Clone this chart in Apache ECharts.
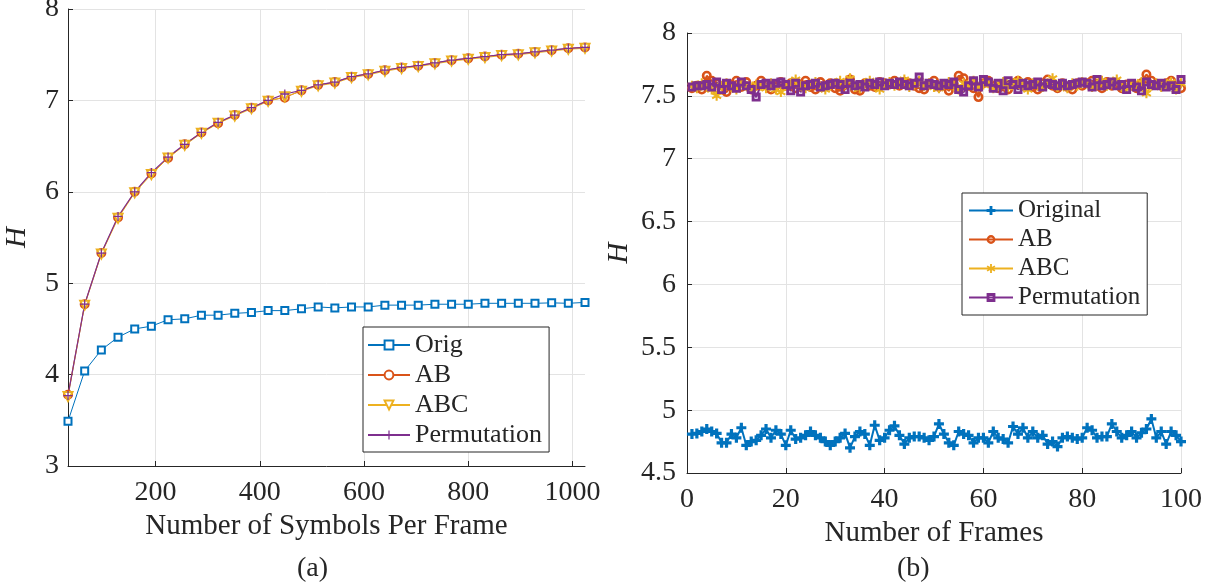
<!DOCTYPE html>
<html>
<head>
<meta charset="utf-8">
<script src="https://cdn.jsdelivr.net/npm/echarts@6/dist/echarts.min.js"></script>
<style>
  html, body { margin: 0; padding: 0; background: #fff; }
  #chart { width: 1211px; height: 588px; }
</style>
</head>
<body>
<div id="chart"></div>
<script>
// (a) entropy vs number of symbols per frame
var symbolsPerFrame = [32, 64, 96, 128, 160, 192, 224, 256, 288, 320, 352, 384, 416, 448, 480, 512,
  544, 576, 608, 640, 672, 704, 736, 768, 800, 832, 864, 896, 928, 960, 992, 1024]
var hOrigA = [3.49, 4.04, 4.27, 4.41, 4.50, 4.53, 4.60, 4.61, 4.65, 4.65, 4.67, 4.68, 4.70, 4.70, 4.72, 4.74,
  4.73, 4.74, 4.74, 4.76, 4.76, 4.76, 4.77, 4.77, 4.77, 4.78, 4.78, 4.78, 4.78, 4.785, 4.78, 4.79]
var hABA = [3.78, 4.77, 5.33, 5.72, 6.00, 6.20, 6.37, 6.52, 6.65, 6.75, 6.84, 6.92, 7.00, 7.03, 7.11, 7.17,
  7.20, 7.26, 7.29, 7.33, 7.36, 7.38, 7.41, 7.44, 7.46, 7.48, 7.50, 7.51, 7.53, 7.55, 7.57, 7.58]
var hABCA = [3.76, 4.76, 5.32, 5.71, 5.99, 6.19, 6.37, 6.51, 6.64, 6.75, 6.83, 6.91, 6.99, 7.04, 7.10, 7.16,
  7.19, 7.25, 7.28, 7.32, 7.35, 7.37, 7.40, 7.43, 7.45, 7.47, 7.49, 7.50, 7.52, 7.54, 7.56, 7.57]
var hPermA = [3.77, 4.77, 5.33, 5.73, 6.00, 6.21, 6.38, 6.52, 6.65, 6.76, 6.84, 6.92, 7.00, 7.07, 7.11, 7.17,
  7.20, 7.26, 7.29, 7.33, 7.36, 7.38, 7.41, 7.44, 7.46, 7.48, 7.50, 7.51, 7.53, 7.55, 7.57, 7.58]
var ticksA = [200, 400, 600, 800, 1000]

// (b) entropy per frame
var frames = [1, 2, 3, 4, 5, 6, 7, 8, 9, 10, 11, 12, 13, 14, 15, 16, 17, 18, 19, 20,
  21, 22, 23, 24, 25, 26, 27, 28, 29, 30, 31, 32, 33, 34, 35, 36, 37, 38, 39, 40,
  41, 42, 43, 44, 45, 46, 47, 48, 49, 50, 51, 52, 53, 54, 55, 56, 57, 58, 59, 60,
  61, 62, 63, 64, 65, 66, 67, 68, 69, 70, 71, 72, 73, 74, 75, 76, 77, 78, 79, 80,
  81, 82, 83, 84, 85, 86, 87, 88, 89, 90, 91, 92, 93, 94, 95, 96, 97, 98, 99, 100]
var hOrigB = [4.81, 4.815, 4.83, 4.85, 4.83, 4.815, 4.74, 4.74, 4.81, 4.78,
  4.86, 4.72, 4.75, 4.76, 4.80, 4.85, 4.78, 4.84, 4.81, 4.72,
  4.84, 4.77, 4.78, 4.80, 4.83, 4.80, 4.78, 4.75, 4.72, 4.75,
  4.78, 4.815, 4.70, 4.79, 4.83, 4.81, 4.72, 4.88, 4.76, 4.78,
  4.84, 4.875, 4.80, 4.73, 4.78, 4.79, 4.79, 4.78, 4.76, 4.79,
  4.89, 4.81, 4.74, 4.72, 4.83, 4.81, 4.80, 4.74, 4.78, 4.78,
  4.74, 4.83, 4.78, 4.77, 4.74, 4.87, 4.81, 4.86, 4.78, 4.83,
  4.78, 4.80, 4.73, 4.75, 4.71, 4.78, 4.79, 4.78, 4.77, 4.78,
  4.86, 4.84, 4.78, 4.79, 4.79, 4.89, 4.83, 4.78, 4.80, 4.83,
  4.78, 4.82, 4.85, 4.93, 4.78, 4.83, 4.73, 4.83, 4.80, 4.75]
var hABB = [7.56, 7.58, 7.55, 7.66, 7.62, 7.60, 7.55, 7.53, 7.59, 7.62,
  7.57, 7.61, 7.55, 7.58, 7.62, 7.59, 7.55, 7.58, 7.61, 7.58,
  7.60, 7.56, 7.59, 7.62, 7.57, 7.55, 7.61, 7.58, 7.60, 7.56,
  7.54, 7.59, 7.63, 7.55, 7.54, 7.60, 7.58, 7.57, 7.61, 7.60,
  7.59, 7.62, 7.58, 7.61, 7.60, 7.58, 7.56, 7.55, 7.59, 7.62,
  7.57, 7.58, 7.54, 7.59, 7.66, 7.64, 7.58, 7.56, 7.49, 7.60,
  7.62, 7.58, 7.56, 7.59, 7.55, 7.60, 7.62, 7.58, 7.61, 7.57,
  7.55, 7.60, 7.63, 7.58, 7.56, 7.60, 7.57, 7.55, 7.60, 7.58,
  7.60, 7.62, 7.58, 7.56, 7.61, 7.58, 7.60, 7.56, 7.59, 7.58,
  7.56, 7.60, 7.67, 7.62, 7.59, 7.58, 7.60, 7.62, 7.57, 7.56]
var hABCB = [7.58, 7.56, 7.60, 7.57, 7.55, 7.50, 7.58, 7.60, 7.57, 7.55,
  7.60, 7.58, 7.56, 7.59, 7.58, 7.56, 7.60, 7.55, 7.53, 7.58,
  7.60, 7.63, 7.58, 7.56, 7.59, 7.61, 7.57, 7.55, 7.58, 7.60,
  7.62, 7.59, 7.64, 7.57, 7.56, 7.60, 7.62, 7.58, 7.55, 7.59,
  7.61, 7.58, 7.60, 7.63, 7.57, 7.59, 7.62, 7.58, 7.60, 7.57,
  7.56, 7.59, 7.61, 7.58, 7.55, 7.60, 7.58, 7.62, 7.57, 7.59,
  7.60, 7.56, 7.58, 7.61, 7.57, 7.59, 7.62, 7.58, 7.55, 7.60,
  7.58, 7.57, 7.60, 7.64, 7.57, 7.59, 7.56, 7.60, 7.58, 7.61,
  7.60, 7.57, 7.59, 7.62, 7.58, 7.60, 7.63, 7.57, 7.56, 7.59,
  7.58, 7.61, 7.52, 7.58, 7.60, 7.57, 7.59, 7.61, 7.55, 7.60]
var hPermB = [7.57, 7.58, 7.58, 7.59, 7.57, 7.61, 7.55, 7.60, 7.58, 7.56,
  7.61, 7.58, 7.55, 7.49, 7.59, 7.60, 7.58, 7.60, 7.61, 7.59,
  7.54, 7.60, 7.53, 7.58, 7.59, 7.60, 7.57, 7.58, 7.59, 7.60,
  7.59, 7.55, 7.60, 7.58, 7.59, 7.57, 7.60, 7.59, 7.61, 7.58,
  7.60, 7.59, 7.61, 7.59, 7.58, 7.60, 7.65, 7.58, 7.60, 7.59,
  7.58, 7.60, 7.59, 7.61, 7.55, 7.53, 7.58, 7.62, 7.57, 7.63,
  7.61, 7.56, 7.60, 7.54, 7.62, 7.59, 7.55, 7.60, 7.58, 7.59,
  7.61, 7.57, 7.60, 7.59, 7.58, 7.60, 7.58, 7.59, 7.60, 7.61,
  7.60, 7.57, 7.63, 7.58, 7.59, 7.61, 7.58, 7.59, 7.55, 7.60,
  7.57, 7.54, 7.61, 7.59, 7.58, 7.60, 7.57, 7.58, 7.55, 7.63]

// matlab colours
var BLUE = '#0072BD'
var ORANGE = '#D95319'
var YELLOW = '#EDB120'
var PURPLE = '#7E2F8E'
var AXIS = '#262626'
var FONT = '"Liberation Serif", "DejaVu Serif", serif'

// marker shapes
var PLUS_THIN = 'path://M4.3,0H5.7V4.3H10V5.7H5.7V10H4.3V5.7H0V4.3H4.3Z'
var PLUS_BOLD = 'path://M3.4,0H6.6V3.4H10V6.6H6.6V10H3.4V6.6H0V3.4H3.4Z'
var STAR = 'path://M4,10L6,10L6,0L4,0Z' +
  'M8.83,8.37L9.83,6.63L1.17,1.63L0.17,3.37Z' +
  'M0.17,6.63L1.17,8.37L9.83,3.37L8.83,1.63Z'
// thick hollow square / circle (outer clockwise, hole anticlockwise)
var RING_SQUARE = 'path://M0,0H10V10H0Z M3.2,3.2V6.8H6.8V3.2Z'
var RING_CIRCLE = 'path://M5,0A5,5,0,1,1,4.99,0Z M5,2.6A2.4,2.4,0,1,0,5.01,2.6Z'

var tickFont = { color: AXIS, fontFamily: FONT, fontSize: 28 }
var nameFont = { color: AXIS, fontFamily: FONT, fontSize: 29 }
var hFont = { color: AXIS, fontFamily: FONT, fontSize: 29, fontStyle: 'italic' }

function pairs (xs, ys) {
  return xs.map(function (x, i) { return [x, ys[i]] })
}

function valueAxis (extra) {
  var base = {
    type: 'value',
    axisLine: { show: true, lineStyle: { color: AXIS, width: 1 } },
    axisTick: { show: true, inside: true, length: 5, lineStyle: { color: AXIS } },
    splitLine: { show: true, lineStyle: { color: '#e3e3e3', width: 1 } }
  }
  return Object.assign(base, extra)
}

var myChart = echarts.init(document.getElementById('chart'), null, { renderer: 'canvas' })

myChart.setOption({
  animation: false,
  backgroundColor: '#fff',
  textStyle: { fontFamily: FONT },
  title: [
    { text: '(a)', left: 292, top: 550, textStyle: { fontFamily: FONT, fontSize: 28, fontWeight: 'normal', color: AXIS } },
    { text: '(b)', left: 892, top: 550, textStyle: { fontFamily: FONT, fontSize: 28, fontWeight: 'normal', color: AXIS } }
  ],
  grid: [
    { left: 68, right: 626, top: 9, bottom: 122, outerBoundsMode: 'none', containLabel: false },
    { left: 687, right: 30, top: 33, bottom: 115, outerBoundsMode: 'none', containLabel: false }
  ],
  xAxis: [
    valueAxis({
      gridIndex: 0, min: 32, max: 1024,
      name: 'Number of Symbols Per Frame', nameLocation: 'middle', nameGap: 45,
      nameTextStyle: nameFont,
      axisTick: { show: true, inside: true, length: 5, lineStyle: { color: AXIS }, customValues: ticksA },
      axisLabel: Object.assign({ margin: 13, customValues: ticksA, formatter: function (v) { return String(v) } }, tickFont)
    }),
    valueAxis({
      gridIndex: 1, min: 0, max: 100, interval: 20,
      name: 'Number of Frames', nameLocation: 'middle', nameGap: 44,
      nameTextStyle: nameFont,
      axisLabel: Object.assign({ margin: 13 }, tickFont)
    })
  ],
  yAxis: [
    valueAxis({
      gridIndex: 0, min: 3, max: 8, interval: 1,
      name: 'H', nameLocation: 'middle', nameGap: 36,
      nameTextStyle: hFont,
      axisLabel: Object.assign({ margin: 9 }, tickFont)
    }),
    valueAxis({
      gridIndex: 1, min: 4.5, max: 8, interval: 0.5,
      name: 'H', nameLocation: 'middle', nameGap: 53,
      nameTextStyle: hFont,
      axisLabel: Object.assign({ margin: 11 }, tickFont)
    })
  ],
  legend: [
    {
      data: ['Orig', 'AB', 'ABC', 'Permutation'],
      orient: 'vertical', left: 363, top: 327,
      padding: [5, 7, 4, 4], itemGap: 4, itemWidth: 42, itemHeight: 11,
      backgroundColor: '#fff', borderColor: AXIS, borderWidth: 1, borderRadius: 0,
      textStyle: { fontFamily: FONT, fontSize: 26, color: AXIS, padding: [2, 0, 0, 0] },
      selectedMode: false
    },
    {
      data: ['Original', 'AB (b)', 'ABC (b)', 'Permutation (b)'],
      formatter: function (name) { return name.replace(' (b)', '') },
      orient: 'vertical', left: 962, top: 193,
      padding: [5, 7, 5, 6], itemGap: 4, itemWidth: 44, itemHeight: 11,
      backgroundColor: '#fff', borderColor: AXIS, borderWidth: 1, borderRadius: 0,
      textStyle: { fontFamily: FONT, fontSize: 25, color: AXIS, padding: [2, 0, 0, 0] },
      selectedMode: false
    }
  ],
  series: [
    // (a)
    {
      name: 'Orig', type: 'line', xAxisIndex: 0, yAxisIndex: 0,
      data: pairs(symbolsPerFrame, hOrigA),
      symbol: 'emptyRect', symbolSize: 7,
      lineStyle: { color: BLUE, width: 1 },
      itemStyle: { color: BLUE, borderWidth: 1 }
    },
    {
      name: 'AB', type: 'line', xAxisIndex: 0, yAxisIndex: 0,
      data: pairs(symbolsPerFrame, hABA),
      symbol: 'emptyCircle', symbolSize: 8,
      lineStyle: { color: ORANGE, width: 1 },
      itemStyle: { color: ORANGE, borderWidth: 1 }
    },
    {
      name: 'ABC', type: 'line', xAxisIndex: 0, yAxisIndex: 0,
      data: pairs(symbolsPerFrame, hABCA),
      symbol: 'emptyTriangle', symbolRotate: 180, symbolSize: 9,
      lineStyle: { color: YELLOW, width: 1 },
      itemStyle: { color: YELLOW, borderWidth: 1 }
    },
    {
      name: 'Permutation', type: 'line', xAxisIndex: 0, yAxisIndex: 0,
      data: pairs(symbolsPerFrame, hPermA),
      symbol: PLUS_THIN, symbolSize: 9,
      lineStyle: { color: PURPLE, width: 1.2 },
      itemStyle: { color: PURPLE, borderWidth: 0 }
    },
    // (b)
    {
      name: 'Original', type: 'line', xAxisIndex: 1, yAxisIndex: 1,
      data: pairs(frames, hOrigB),
      symbol: PLUS_BOLD, symbolSize: 10,
      lineStyle: { color: BLUE, width: 2 },
      itemStyle: { color: BLUE, borderWidth: 0 }
    },
    {
      name: 'AB (b)', type: 'line', xAxisIndex: 1, yAxisIndex: 1,
      data: pairs(frames, hABB),
      symbol: RING_CIRCLE, symbolSize: 10,
      lineStyle: { color: ORANGE, width: 2 },
      itemStyle: { color: ORANGE, borderWidth: 0 }
    },
    {
      name: 'ABC (b)', type: 'line', xAxisIndex: 1, yAxisIndex: 1,
      data: pairs(frames, hABCB),
      symbol: STAR, symbolSize: 10,
      lineStyle: { color: YELLOW, width: 2 },
      itemStyle: { color: YELLOW, borderWidth: 0 }
    },
    {
      name: 'Permutation (b)', type: 'line', xAxisIndex: 1, yAxisIndex: 1,
      data: pairs(frames, hPermB),
      symbol: RING_SQUARE, symbolSize: 9,
      lineStyle: { color: PURPLE, width: 2 },
      itemStyle: { color: PURPLE, borderWidth: 0 }
    }
  ]
})
</script>
</body>
</html>
